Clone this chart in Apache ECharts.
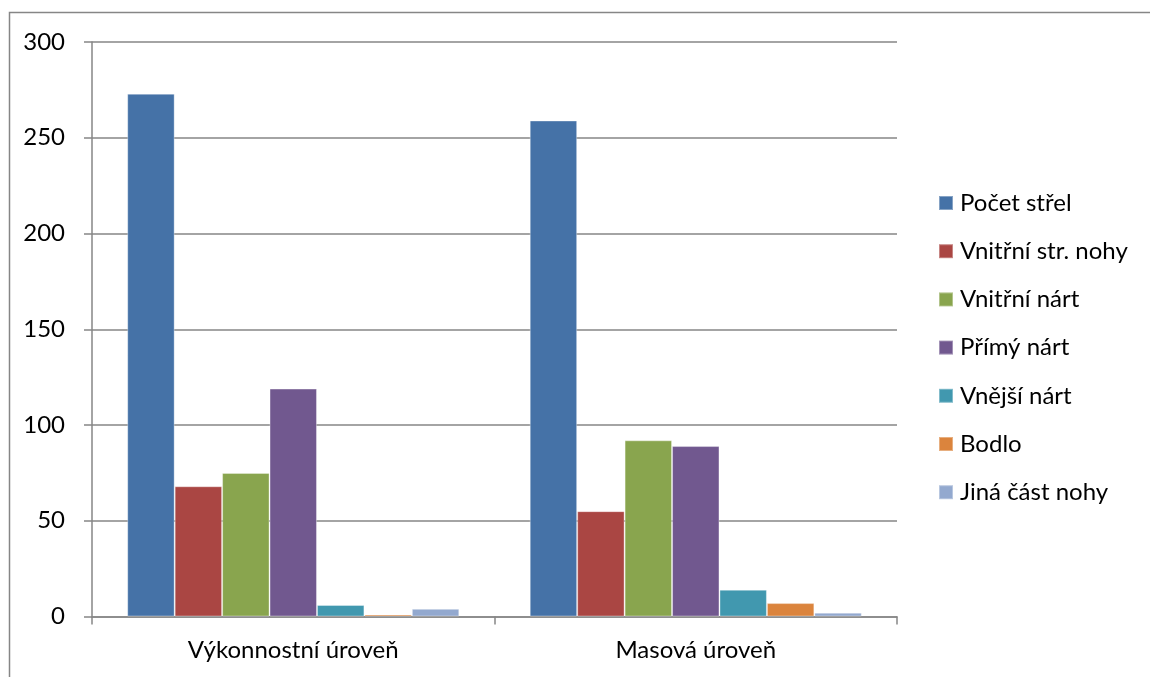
<!DOCTYPE html>
<html>
<head>
<meta charset="utf-8">
<script src="https://cdn.jsdelivr.net/npm/echarts@6/dist/echarts.min.js"></script>
<style>
  html, body { margin: 0; padding: 0; background: #fff; }
  #chart { width: 1150px; height: 677px; }
</style>
</head>
<body>
<div id="chart"></div>
<script>
// Kategorie (úroveň hráčů)
const categories = ['Výkonnostní úroveň', 'Masová úroveň'];

// Počty střel podle části nohy
const pocetStrel      = [273, 259];
const vnitrniStrNohy  = [68, 55];
const vnitrniNart     = [75, 92];
const primyNart       = [119, 89];
const vnejsiNart      = [6, 14];
const bodlo           = [1, 7];
const jinaCastNohy    = [4, 2];

const seriesNames = ['Počet střel', 'Vnitřní str. nohy', 'Vnitřní nárt', 'Přímý nárt', 'Vnější nárt', 'Bodlo', 'Jiná část nohy'];
const seriesValues = [pocetStrel, vnitrniStrNohy, vnitrniNart, primyNart, vnejsiNart, bodlo, jinaCastNohy];
const colors = ['#4572A7', '#AA4643', '#89A54E', '#71588F', '#4198AF', '#DB843D', '#93A9CF'];

const yTicks = { min: 0, max: 300, interval: 50 };

const FONT = 'Lato, "Open Sans", sans-serif';
const AXIS_GRAY = '#868686';

const chart = echarts.init(document.getElementById('chart'), null, { renderer: 'canvas' });

chart.setOption({
  animation: false,
  backgroundColor: '#fff',
  color: colors,
  textStyle: { fontFamily: FONT },
  graphic: [{
    type: 'rect',
    silent: true,
    shape: { x: 9.5, y: 12.5, width: 1200, height: 700 },
    style: { fill: 'none', stroke: AXIS_GRAY, lineWidth: 1.5 },
    z: -10
  }],
  grid: { left: 92, right: 253, top: 42, bottom: 60.5, containLabel: false },
  legend: {
    orient: 'vertical',
    left: 938,
    top: 191,
    padding: 0,
    itemWidth: 14,
    itemHeight: 14,
    itemGap: 24.2,
    icon: 'rect',
    textStyle: { fontFamily: FONT, fontSize: 24, color: '#000', lineHeight: 24, padding: [0, 0, 0, 2] },
    data: seriesNames
  },
  xAxis: {
    type: 'category',
    data: categories,
    axisLine: { show: true, lineStyle: { color: AXIS_GRAY, width: 1.5 } },
    axisTick: { show: true, length: 8, lineStyle: { color: AXIS_GRAY, width: 1.5 } },
    axisLabel: { color: '#000', fontFamily: FONT, fontSize: 24, margin: 22 },
    splitLine: { show: false }
  },
  yAxis: {
    type: 'value',
    min: yTicks.min,
    max: yTicks.max,
    interval: yTicks.interval,
    axisLine: { show: true, lineStyle: { color: AXIS_GRAY, width: 1.5 } },
    axisTick: { show: true, length: 8, lineStyle: { color: AXIS_GRAY, width: 1.5 } },
    axisLabel: { color: '#000', fontFamily: FONT, fontSize: 24, margin: 27 },
    splitLine: { show: true, lineStyle: { color: AXIS_GRAY, width: 1.5 } }
  },
  series: seriesNames.map((name, i) => ({
    name: name,
    type: 'bar',
    data: seriesValues[i],
    barGap: '0%',
    barCategoryGap: '17.5%',
    itemStyle: { color: colors[i], borderColor: 'rgba(255,255,255,0.35)', borderWidth: 1 }
  }))
});
</script>
</body>
</html>
